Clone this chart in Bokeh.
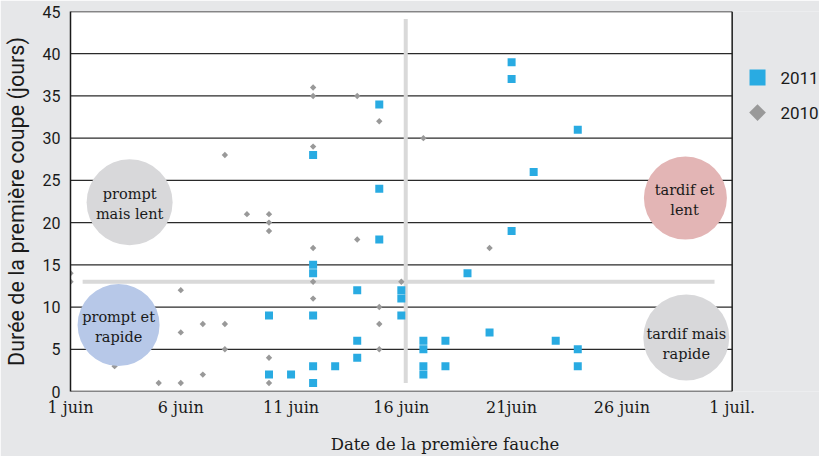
from bokeh.plotting import figure
from bokeh.models import FixedTicker
from bokeh.core.properties import value
from bokeh.embed import file_html
from bokeh.resources import INLINE
import math

# ---- data: day of June of the first mowing, duration of the first cut (days)
day_2011 = [10, 10, 11, 12, 12, 12, 12, 12, 12, 13, 14, 14, 14, 15, 15, 15, 16, 16, 16, 17,
            17, 17, 17, 18, 18, 19, 20, 21, 21, 21, 22, 23, 24, 24, 24]
dur_2011 = [9, 2, 2, 28, 15, 14, 9, 3, 1, 3, 12, 6, 4, 34, 24, 18, 12, 11, 9, 6,
            5, 3, 2, 6, 3, 14, 7, 39, 37, 19, 26, 6, 31, 5, 3]
day_2010 = [1, 1, 3, 5, 6, 6, 6, 7, 7, 8, 8, 8, 9, 10, 10, 10, 10, 10, 12, 12,
            12, 12, 12, 12, 14, 14, 15, 15, 15, 15, 16, 17, 20]
dur_2010 = [14, 13, 3, 1, 12, 7, 1, 8, 2, 28, 8, 5, 21, 21, 20, 19, 4, 1, 36, 35,
            29, 17, 13, 11, 35, 18, 32, 10, 8, 5, 13, 30, 17]

series_names = ["2011", "2010"]

x_ticks = [1, 6, 11, 16, 21, 26, 31]
x_tick_labels = ["1 juin", "6 juin", "11 juin", "16 juin", "21juin", "26 juin", "1 juil."]
y_ticks = [0, 5, 10, 15, 20, 25, 30, 35, 40, 45]

X_MIN, X_MAX, Y_MIN, Y_MAX = 1, 31, 0, 45
X_VIEW_END = 34.96          # room on the right for the legend

# quadrant separators
v_sep_x = 16.2
v_sep_y = (1.0, 44.1)
h_sep_y = 13
h_sep_x = (1.55, 30.2)

# quadrant bubbles
quad_text = ["prompt\nmais lent", "prompt et\nrapide", "tardif et\nlent", "tardif mais\nrapide"]
quad_cx = [3.68, 3.18, 28.88, 28.92]
quad_cy = [22.4, 7.87, 22.9, 6.4]
quad_tx = [3.68, 3.18, 28.84, 28.92]
quad_ty = [22.24, 7.60, 22.66, 5.63]
quad_diam = [86, 82, 83, 86]
quad_color = ["#d8d8da", "#b7c8e8", "#e3b5b5", "#d8d8da"]

# legend placement
leg_mark_x = 32.15
leg_text_x = 33.19
leg_y = [37.17, 33.03]

BG = "#e6e7e9"
INK = "#1a1a1a"
BLUE = "#29abe2"
GREY = "#999999"
SERIF = "DejaVu Serif"
SANS = "Roboto"

p = figure(width=819, height=456, x_range=(X_MIN, X_VIEW_END), y_range=(Y_MIN, Y_MAX),
           output_backend="svg", toolbar_location=None,
           min_border_left=70, min_border_right=0, min_border_top=11, min_border_bottom=64)
p.border_fill_color = BG
p.background_fill_color = BG
p.outline_line_color = None
p.xgrid.visible = False
p.ygrid.visible = False

# plot area
p.quad(left=[X_MIN], right=[X_MAX], bottom=[Y_MIN], top=[Y_MAX], fill_color="white", line_color=None)
grid_y = y_ticks[1:-1]
p.segment(x0=[X_MIN] * len(grid_y), y0=grid_y, x1=[X_MAX] * len(grid_y), y1=grid_y,
          line_color="#2a2a2a", line_width=1.3)
p.segment(x0=[X_MIN, X_MAX, X_MIN], y0=[Y_MAX, Y_MIN, Y_MIN], x1=[X_MAX, X_MAX, X_MAX],
          y1=[Y_MAX, Y_MAX, Y_MIN], line_color=INK, line_width=1.5)

p.xaxis.ticker = FixedTicker(ticks=x_ticks)
p.xaxis.major_label_overrides = {t: l for t, l in zip(x_ticks, x_tick_labels)}
p.yaxis.ticker = FixedTicker(ticks=y_ticks)
for ax in (p.xaxis, p.yaxis):
    ax.major_tick_line_color = None
    ax.minor_tick_line_color = None
    ax.major_tick_out = 0
    ax.major_tick_in = 0
    ax.minor_tick_out = 0
    ax.axis_line_color = INK
    ax.axis_line_width = 1.5
    ax.major_label_text_color = INK
    ax.axis_label_text_color = INK
    ax.axis_label_text_font_style = "normal"
p.xaxis.axis_line_color = None

p.xaxis.major_label_text_font = SERIF
p.xaxis.major_label_text_font_size = "16px"
p.xaxis.major_label_standoff = 6
p.xaxis.axis_label = "Date de la première fauche"
p.xaxis.axis_label_text_font = SERIF
p.xaxis.axis_label_text_font_size = "16.5px"
p.xaxis.axis_label_standoff = 15

p.yaxis.major_label_text_font = SANS
p.yaxis.major_label_text_font_size = "16px"
p.yaxis.major_label_standoff = 10
p.yaxis.axis_label = "Durée de la première coupe (jours)"
p.yaxis.axis_label_text_font = SANS
p.yaxis.axis_label_text_font_size = "21.5px"
p.yaxis.axis_label_standoff = 11

# separators
p.segment(x0=[v_sep_x], y0=[v_sep_y[0]], x1=[v_sep_x], y1=[v_sep_y[1]],
          line_color="#d9d9d9", line_width=4)
p.segment(x0=[h_sep_x[0]], y0=[h_sep_y], x1=[h_sep_x[1]], y1=[h_sep_y],
          line_color="#d9d9d9", line_width=4)

# points
p.scatter(day_2010, dur_2010, marker="square", size=4.5, angle=math.pi / 4,
          fill_color=GREY, line_color=None)
p.scatter(day_2011, dur_2011, marker="square", size=8, fill_color=BLUE, line_color=None)

# bubbles
p.scatter(quad_cx, quad_cy, marker="circle", size=quad_diam, fill_color=quad_color, line_color=None)
p.text(quad_tx, quad_ty, text=quad_text, text_align="center", text_baseline="middle",
       text_font=value(SERIF), text_font_size="14.5px", text_color=INK,
       text_line_height=1.25)

# legend
p.scatter([leg_mark_x], [leg_y[0]], marker="square", size=16, fill_color=BLUE, line_color=None)
p.scatter([leg_mark_x], [leg_y[1]], marker="square", size=11.8, angle=math.pi / 4,
          fill_color=GREY, line_color=None)
p.text([leg_text_x] * 2, leg_y, text=series_names, text_align="left", text_baseline="middle",
       text_font=value(SANS), text_font_size="17px", text_color=INK)

open("out.html", "w").write(file_html(p, INLINE))
